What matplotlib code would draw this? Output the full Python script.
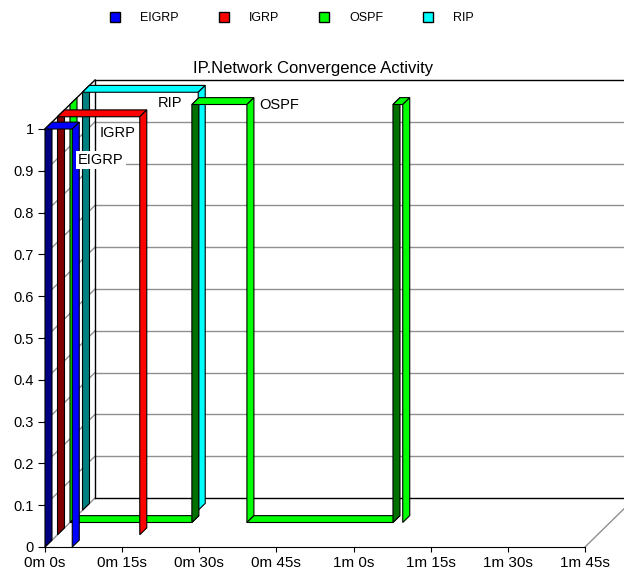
import numpy as np
import matplotlib.pyplot as plt
from matplotlib.patches import Polygon, Patch

plt.rcParams['font.family'] = ['Liberation Sans', 'DejaVu Sans']

series = ["EIGRP", "IGRP", "OSPF", "RIP"]
bright = ["#0000ff", "#ff0000", "#00ff00", "#00ffff"]
dark = ["#000080", "#800000", "#007000", "#008080"]

# step points: time (s), value
eigrp_t = [0, 0, 5.3, 5.3]
eigrp_v = [0, 1, 1, 0]
igrp_t = [0, 0, 16, 16]
igrp_v = [0, 1, 1, 0]
ospf_t = [0, 0, 23.7, 23.7, 34.4, 34.4, 62.8, 62.8, 64.7, 64.7]
ospf_v = [1, 0, 0, 1, 1, 0, 0, 1, 1, 0]
rip_t = [0, 0, 22.5, 22.5]
rip_v = [0, 1, 1, 0]

xticks = [0, 15, 30, 45, 60, 75, 90, 105]
xlabels = ["0m 0s", "0m 15s", "0m 30s", "0m 45s", "1m 0s", "1m 15s", "1m 30s", "1m 45s"]
yticks = [0, 0.1, 0.2, 0.3, 0.4, 0.5, 0.6, 0.7, 0.8, 0.9, 1]
ylabels = ["0", "0.1", "0.2", "0.3", "0.4", "0.5", "0.6", "0.7", "0.8", "0.9", "1"]

fig = plt.figure(figsize=(6.24, 5.74), dpi=100)
ax = fig.add_axes([45/624, 27/574, 540/624, 418/574])
ax.set_xlim(0, 105)
ax.set_ylim(0, 1)
ax.set_facecolor('none')
for s in ['top', 'right']:
    ax.spines[s].set_visible(False)
ax.set_xticks(xticks, xlabels)
ax.set_yticks(yticks, ylabels)
ax.tick_params(axis='y', length=5, pad=3, labelsize=10.5)
ax.tick_params(axis='x', length=3.5, pad=3, labelsize=11)

# depth in pixels -> data units
kx = 105 / ax.bbox.width
ky = 1 / ax.bbox.height
D = 50

def P(t, v, z):
    return (t + z * kx, v + z * 0.98 * ky)

# walls and grid
gkw = dict(color='#909090', lw=1, clip_on=False, zorder=1)
for v in yticks[1:-1]:
    a, b = P(0, v, 0), P(0, v, D)
    ax.plot([a[0], b[0]], [a[1], b[1]], **gkw)
    a, b = P(0, v, D), P(105, v, D)
    ax.plot([a[0], b[0]], [a[1], b[1]], **gkw)
bkw = dict(color='black', lw=1, clip_on=False, zorder=1.5)
for (t1, v1, z1), (t2, v2, z2) in [((0, 0, D), (105, 0, D)), ((0, 0, D), (0, 1, D)),
                                   ((0, 1, D), (105, 1, D)), ((0, 1, 0), (0, 1, D))]:
    a, b = P(t1, v1, z1), P(t2, v2, z2)
    ax.plot([a[0], b[0]], [a[1], b[1]], **bkw)
for (t1, v1, z1), (t2, v2, z2) in [((0, 0, 0), (0, 0, D)), ((105, 0, 0), (105, 0, D))]:
    a, b = P(t1, v1, z1), P(t2, v2, z2)
    ax.plot([a[0], b[0]], [a[1], b[1]], **gkw)

# ribbons, back to front
data = [(eigrp_t, eigrp_v), (igrp_t, igrp_v), (ospf_t, ospf_v), (rip_t, rip_v)]
thick = 7
for i in [3, 2, 1, 0]:
    ts, vs = data[i]
    z0 = 12.5 * i
    z1 = z0 + thick
    for k in range(len(ts) - 1):
        ta, va, tb, vb = ts[k], vs[k], ts[k + 1], vs[k + 1]
        col = dark[i] if vb > va else bright[i]
        poly = Polygon([P(ta, va, z0), P(tb, vb, z0), P(tb, vb, z1), P(ta, va, z1)],
                       closed=True, facecolor=col, edgecolor='black', lw=0.8,
                       clip_on=False, zorder=3 + (3 - i))
        ax.add_patch(poly)

# data labels (EIGRP, IGRP, OSPF, RIP)
lab_pos = [(10.9, 0.926), (14.2, 0.99), (45.5, 1.057), (24.3, 1.062)]
for name, (t, v) in zip(series, lab_pos):
    ax.text(t, v, name, ha='center', va='center', fontsize=10.5, zorder=10,
            clip_on=False, bbox=dict(facecolor='white', edgecolor='none', pad=1.5))

fig.text(313/624, 1 - 68/574, "IP.Network Convergence Activity", ha='center',
         va='center', fontsize=12)

handles = [Patch(facecolor=c, edgecolor='black', lw=1) for c in bright]
fig.legend(handles, series, loc='center', bbox_to_anchor=(292/624, 1 - 18/574),
           ncol=4, frameon=False, fontsize=9, handlelength=0.8, handleheight=0.85,
           handletextpad=1.6, columnspacing=3.2)

plt.savefig("out.png", dpi=100)
